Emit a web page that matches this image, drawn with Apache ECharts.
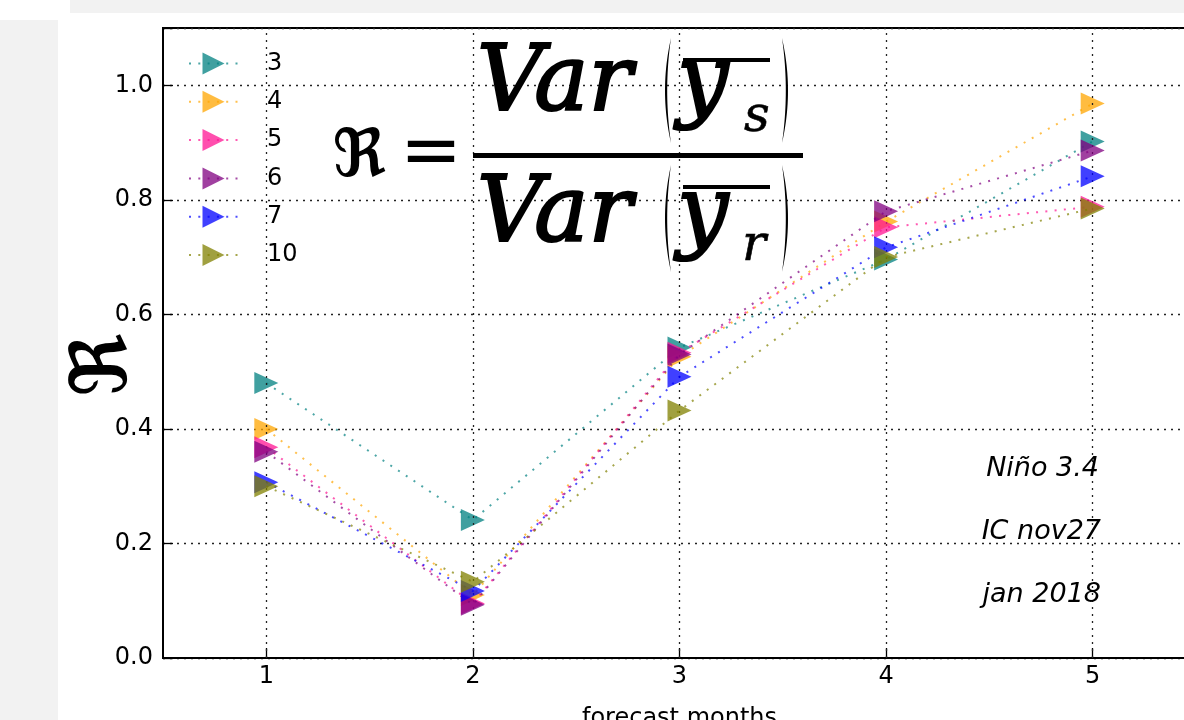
<!DOCTYPE html>
<html>
<head>
<meta charset="utf-8">
<script src="https://cdn.jsdelivr.net/npm/echarts@6/dist/echarts.min.js"></script>
<style>
html,body{margin:0;padding:0;background:#fff;width:1184px;height:720px;overflow:hidden;position:relative;}
#topbar{position:absolute;left:70px;top:0;width:1114px;height:13px;background:#f2f2f2;}
#leftbar{position:absolute;left:0;top:20px;width:58px;height:700px;background:#f2f2f2;}
#chart{position:absolute;left:58px;top:13px;width:1250px;height:707px;background:#fff;}
</style>
</head>
<body>
<div id="topbar"></div>
<div id="leftbar"></div>
<div id="chart"></div>
<script>
// ---- data ----
const categories = ['1', '2', '3', '4', '5'];
const seriesNames = ['3', '4', '5', '6', '7', '10'];
const r3  = [0.480, 0.241, 0.542, 0.696, 0.902];
const r4  = [0.400, 0.110, 0.526, 0.762, 0.968];
const r5  = [0.368, 0.095, 0.533, 0.752, 0.788];
const r6  = [0.360, 0.093, 0.530, 0.780, 0.886];
const r7  = [0.307, 0.117, 0.491, 0.717, 0.841];
const r10 = [0.300, 0.133, 0.432, 0.700, 0.785];
const seriesValues = [r3, r4, r5, r6, r7, r10];
const annotations = ['Niño 3.4', 'IC nov27', 'jan 2018'];
const xName = 'forecast months';

// ---- style ----
const rgb = [[0,128,128],[255,165,0],[255,20,147],[128,0,128],[0,0,255],[128,128,0]];
const OX = 58, OY = 13; // container offset on page
const FONT = '"DejaVu Sans"';
const SERIF = '"DejaVu Serif"';
const TRI = 'path://M0,0L1,0.5L0,1Z';

const chart = echarts.init(document.getElementById('chart'), null, {renderer: 'canvas'});

const lineSeries = seriesNames.map((name, i) => ({
  name: name,
  type: 'line',
  data: seriesValues[i],
  symbol: TRI,
  symbolSize: [24, 22],
  z: 3 + i,
  itemStyle: {color: `rgba(${rgb[i].join(',')},0.75)`, borderWidth: 0},
  lineStyle: {color: `rgba(${rgb[i].join(',')},0.7)`, width: 2, type: [2, 7.3]},
  emphasis: {disabled: true},
  animation: false
}));

const gridSeries = {
  type: 'line',
  data: [],
  z: 1,
  silent: true,
  animation: false,
  markLine: {
    silent: true,
    animation: false,
    symbol: ['none', 'none'],
    label: {show: false},
    lineStyle: {color: '#222', width: 1.3, type: [2, 5]},
    data: categories.map(c => ({xAxis: c}))
  }
};

function P(x, y) { return [x - OX, y - OY]; }

function txt(text, x, y, size, opts) {
  const p = P(x, y);
  return Object.assign({
    type: 'text',
    x: p[0], y: p[1],
    z: 100,
    silent: true,
    style: Object.assign({
      text: text,
      fontFamily: FONT,
      fontSize: size,
      fill: '#000',
      textAlign: 'left',
      textVerticalAlign: 'middle'
    }, opts && opts.style || {})
  }, opts && opts.el || {});
}
function rect(x1, y1, x2, y2) {
  const p = P(x1, y1);
  return {type: 'rect', z: 100, silent: true, shape: {x: p[0], y: p[1], width: x2 - x1, height: y2 - y1}, style: {fill: '#000'}};
}
function paren(xTip, yTop, yBot, bulge, thick) {
  // crescent-shaped parenthesis drawn as a polygon; bulge negative for '(' and positive for ')'
  const ym = (yTop + yBot) / 2;
  const pts = [];
  const q = (t, c) => {
    const x = (1 - t) * (1 - t) * xTip + 2 * (1 - t) * t * c + t * t * xTip;
    const y = (1 - t) * (1 - t) * yTop + 2 * (1 - t) * t * ym + t * t * yBot;
    return P(x, y);
  };
  const cOut = xTip + 2 * bulge, cIn = xTip + 2 * (bulge - Math.sign(bulge) * thick);
  for (let k = 0; k <= 24; k++) pts.push(q(k / 24, cOut));
  for (let k = 24; k >= 0; k--) pts.push(q(k / 24, cIn));
  return {type: 'polygon', z: 100, silent: true, shape: {points: pts}, style: {fill: '#000'}};
}

const italicBig = {style: {fontFamily: SERIF, fontStyle: 'italic', stroke: '#000', lineWidth: 2.2}};
const italicSmall = {style: {fontFamily: SERIF, fontStyle: 'italic', stroke: '#000', lineWidth: 0.6}};

const graphics = [
  // y axis label
  txt('\u211C', 106, 365, 78, {el: {rotation: Math.PI / 2}, style: {textAlign: 'center', fontWeight: 'bold', fontFamily: FONT}}),
  // formula
  txt('\u211C', 359, 159, 66, {style: {textAlign: 'center', fontWeight: 'bold', fontFamily: FONT}}),
  txt('=', 431, 156, 74, {style: {textAlign: 'center', fontFamily: FONT}}),
  rect(473, 153, 803, 158),
  txt('Var', 477, 86, 91, italicBig),
  txt('y', 677, 86, 91, italicBig),
  rect(683, 58, 770, 62),
  txt('s', 744, 118, 50, italicSmall),
  paren(671, 38, 143, -6, 2.2),
  paren(782, 38, 143, 6, 2.2),
  txt('Var', 477, 217, 91, italicBig),
  txt('y', 677, 217, 91, italicBig),
  rect(683, 185, 770, 189),
  txt('r', 742, 247, 50, italicSmall),
  paren(671, 165, 272, -6, 2.2),
  paren(782, 165, 272, 6, 2.2),
  // annotations
  txt(annotations[0], 1099, 469, 27, {style: {textAlign: 'right', fontStyle: 'italic'}}),
  txt(annotations[1], 1101, 532, 27, {style: {textAlign: 'right', fontStyle: 'italic'}}),
  txt(annotations[2], 1101, 595, 27, {style: {textAlign: 'right', fontStyle: 'italic'}})
];

const option = {
  animation: false,
  backgroundColor: '#fff',
  textStyle: {fontFamily: FONT},
  grid: {left: 105, top: 15, width: 1033, height: 630, show: true, borderColor: '#000', borderWidth: 2,
    backgroundColor: 'transparent', containLabel: false, outerBoundsMode: 'none'},
  legend: {
    data: seriesNames,
    orient: 'vertical',
    left: 188 - OX,
    top: 51.5 - OY,
    padding: 0,
    itemWidth: 49,
    itemHeight: 27.5,
    itemGap: 14.3,
    textStyle: {fontSize: 24, fontFamily: FONT, color: '#000', padding: [0, 0, 0, 24]},
    selectedMode: false
  },
  xAxis: {
    type: 'category',
    data: categories,
    boundaryGap: true,
    name: xName,
    nameLocation: 'middle',
    nameGap: 49,
    nameTextStyle: {fontSize: 24, fontFamily: FONT, color: '#000'},
    axisLine: {show: true, lineStyle: {color: '#000', width: 2}},
    axisTick: {show: true, inside: true, alignWithLabel: true, length: 10, lineStyle: {color: '#000', width: 1.3}},
    axisLabel: {fontSize: 24, fontFamily: FONT, color: '#000', margin: 7},
    splitLine: {show: false}
  },
  yAxis: {
    type: 'value',
    min: 0,
    max: 1.1,
    interval: 0.2,
    axisLine: {show: true, lineStyle: {color: '#000', width: 2}},
    axisTick: {show: true, inside: true, length: 10, lineStyle: {color: '#000', width: 1.3}},
    axisLabel: {fontSize: 24, fontFamily: FONT, color: '#000', margin: 10,
      formatter: v => (v > 1.05 ? '' : v.toFixed(1))},
    splitLine: {show: true, lineStyle: {color: '#222', width: 1.3, type: [2, 5]}}
  },
  series: [gridSeries].concat(lineSeries),
  graphic: graphics
};
chart.setOption(option);
</script>
</body>
</html>
